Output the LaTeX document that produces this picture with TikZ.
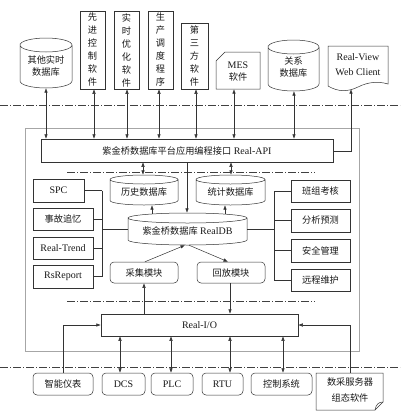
\documentclass[tikz,border=0pt]{standalone}
\usepackage{fontspec}
\setmainfont{Liberation Serif}
\newfontfamily\cjk{Noto Sans CJK SC}
\usetikzlibrary{arrows.meta,calc}
\newcommand\zh[1]{{\cjk\fontsize{9.2}{12}\selectfont #1}}
% #1 options, #2 x1, #3 y1, #4 x2, #5 y2, #6 name, #7 text
\newcommand\bx[7][]{\node[box,#1,minimum width={(#4-#2)*1pt},minimum height={(#5-#3)*1pt}] (#6) at ({(#2+#4)/2},{(#3+#5)/2}) {#7};}
% #1 name, #2 x1, #3 y1, #4 x2, #5 y2, #6 ry, #7 text, #8 text shift
\newcommand\cyl[8]{%
 \draw[ln] (#2,#3+#6) arc[start angle=180,end angle=0,x radius={((#4-#2)/2)*1pt},y radius={#6*1pt}]
   arc[start angle=0,end angle=-180,x radius={((#4-#2)/2)*1pt},y radius={#6*1pt}]
   -- (#2,#5-#6) arc[start angle=180,end angle=360,x radius={((#4-#2)/2)*1pt},y radius={#6*1pt}]
   -- (#4,#3+#6);
 \node[minimum width={(#4-#2)*1pt},minimum height={(#5-#3)*1pt}] (#1) at ({(#2+#4)/2},{(#3+#5)/2}) {};
 \node[align=center] (#1-t) at ({(#2+#4)/2},{(#3+#5)/2+#8}) {#7};}
\begin{document}
\begin{tikzpicture}[x=1pt,y=-1pt,
 every node/.style={font=\fontsize{10}{12}\selectfont, inner sep=0pt, text=black!90},
 ln/.style={draw=black!80, line width=0.5pt},
 box/.style={ln},
 rbox/.style={ln, rounded corners=4pt},
 vtext/.style={align=center, font=\cjk\fontsize{9.2}{13}\selectfont},
 tip/.style={ln,-{Latex[length=4.5pt,width=3.5pt]}},
 dtip/.style={ln,{Latex[length=4.5pt,width=3.5pt]}-{Latex[length=4.5pt,width=3.5pt]}},
 dashdot/.style={draw=black!75, line width=0.45pt, dash pattern=on 8pt off 2pt on 1pt off 2pt}]
\path[use as bounding box, fill=white] (0,0) rectangle (400,418);

% ---- top layer ----
\cyl{db1}{20}{38}{72}{88}{7}{\zh{其他实时}\\\zh{数据库}}{3}
\bx[vtext]{80}{11}{105}{89}{s1}{先\\进\\控\\制\\软\\件}
\bx[vtext]{114}{11}{139}{89}{s2}{实\\时\\优\\化\\软\\件}
\bx[vtext]{148}{11}{173}{89}{s3}{生\\产\\调\\度\\程\\序}
\bx[vtext]{181}{23}{208}{89}{s4}{第\\三\\方\\软\\件}
\draw[ln] (216,61) -- (225,52) -- (260,52) -- (260,89) -- (216,89) -- cycle;
\node[align=center, minimum width=44pt, minimum height=37pt] (mes) at (238,70.5) {};
\node[align=center] (mes-t) at (238,72) {MES\\\zh{软件}};
\cyl{db2}{268}{40}{319}{91}{7}{\zh{关系}\\\zh{数据库}}{2}
\draw[ln] (328,46) -- (388,46) -- (388,84) .. controls (378,81) and (368,82) .. (358,87)
  .. controls (348,92) and (338,92) .. (328,86) -- cycle;
\node[minimum width=60pt, minimum height=43pt] (web) at (358,67.5) {};
\node[align=center, font=\fontsize{10}{15}\selectfont] (web-t) at (358,65) {Real-View\\Web Client};

\draw[dashdot] (0,105) -- (400,105);

% ---- platform frame ----
\bx[draw=black!35, line width=0.5pt]{25}{128}{359}{351}{frame}{}
\bx{41}{139}{333}{162}{api}{\zh{紫金桥数据库平台应用编程接口} Real-API}

\draw[dtip] (46,0 |- db1.south) -- (46,0 |- api.north);
\draw[dtip] (94,0 |- s1.south) -- (94,0 |- api.north);
\draw[dtip] (127,0 |- s2.south) -- (127,0 |- api.north);
\draw[dtip] (159,0 |- s3.south) -- (159,0 |- api.north);
\draw[dtip] (196,0 |- s4.south) -- (196,0 |- api.north);
\draw[dtip] (234,0 |- mes.south) -- (234,0 |- api.north);
\draw[dtip] (294,0 |- db2.south) -- (294,0 |- api.north);
\draw[tip] (api.east |- 0,151) -| (351,0 |- web.south);

\draw[dashdot] (67,172) -- (315,172);

\cyl{hist}{110}{175}{178}{205}{4.5}{\zh{历史数据库}}{2}
\cyl{stat}{196}{175}{265}{205}{4.5}{\zh{统计数据库}}{2}
\cyl{realdb}{128}{213}{247}{245}{5}{\zh{紫金桥数据库} RealDB}{2}

\draw[dtip] (143,0 |- api.south) -- (143,0 |- hist.north);
\draw[dtip] (231,0 |- api.south) -- (231,0 |- stat.north);
\draw[tip] (187,0 |- api.south) -- (187,0 |- realdb.north);
\draw[tip] (152,214) -- (152,0 |- hist.south);
\draw[tip] (225,214) -- (225,0 |- stat.south);

% left tools
\bx{33}{179}{84}{202}{spc}{SPC}
\bx{33}{208}{93}{230}{sg}{\zh{事故追忆}}
\bx{33}{237}{93}{259}{rt}{Real-Trend}
\bx{33}{265}{93}{288}{rs}{RsReport}
\draw[ln] (spc.east) -- (102,0 |- spc.east);
\draw[ln] (sg.east) -- (102,0 |- sg.east);
\draw[ln] (rt.east) -- (102,0 |- rt.east);
\draw[ln] (rs.east) -- (102,0 |- rs.east);
\draw[ln] (102,0 |- spc.east) -- (102,0 |- rs.east);
\draw[ln] (102,0 |- realdb.west) -- (realdb.west);

% right tools
\bx{291}{180}{350}{202}{bz}{\zh{班组考核}}
\bx{291}{209}{350}{232}{fx}{\zh{分析预测}}
\bx{291}{239}{350}{262}{aq}{\zh{安全管理}}
\bx{291}{269}{350}{291}{yc}{\zh{远程维护}}
\draw[ln] (bz.west) -- (274,0 |- bz.west);
\draw[ln] (fx.west) -- (274,0 |- fx.west);
\draw[ln] (aq.west) -- (274,0 |- aq.west);
\draw[ln] (yc.west) -- (274,0 |- yc.west);
\draw[ln] (274,0 |- bz.west) -- (274,0 |- yc.west);
\draw[ln] (realdb.east) -- (274,0 |- realdb.east);

% modules
\bx[rbox]{110}{262}{178}{283}{cj}{\zh{采集模块}}
\bx[rbox]{197}{262}{265}{283}{hf}{\zh{回放模块}}
\draw[tip] (145,0 |- cj.north) -- (185,0 |- realdb.south);
\draw[tip] (189,0 |- realdb.south) -- (228,0 |- hf.north);

\draw[dashdot] (67,301) -- (315,301);

\bx{101}{314}{298}{336}{rio}{Real-I/O}
\draw[tip] (144,0 |- rio.north) -- (144,0 |- cj.south);
\draw[tip] (230,0 |- hf.south) -- (230,0 |- rio.north);

\draw[dashdot] (0,367) -- (400,367);

% ---- field layer ----
\bx[rbox]{33}{373}{93}{395}{zn}{\zh{智能仪表}}
\bx[rbox]{102}{373}{145}{395}{dcs}{DCS}
\bx[rbox]{151}{373}{193}{395}{plc}{PLC}
\bx[rbox]{202}{373}{243}{395}{rtu}{RTU}
\bx[rbox]{251}{373}{312}{395}{kz}{\zh{控制系统}}
\draw[ln] (316,373) -- (383,373) -- (383,402) -- (375,410) -- (316,410) -- cycle;
\draw[ln] (383,402) .. controls (379,402) and (376,404) .. (375,410);
\node[minimum width=67pt, minimum height=37pt] (sc) at (349.5,391.5) {};
\node[align=center, font=\fontsize{10}{16}\selectfont] (sc-t) at (350,390) {\zh{数采服务器}\\\zh{组态软件}};

\draw[tip] (zn.north) |- (rio.west);
\draw[dtip] (120,0 |- rio.south) -- (120,0 |- dcs.north);
\draw[dtip] (171,0 |- rio.south) -- (171,0 |- plc.north);
\draw[dtip] (230,0 |- rio.south) -- (230,0 |- rtu.north);
\draw[dtip] (283,0 |- rio.south) -- (283,0 |- kz.north);
\draw[tip] (350,0 |- sc.north) |- (rio.east);
\end{tikzpicture}
\end{document}
